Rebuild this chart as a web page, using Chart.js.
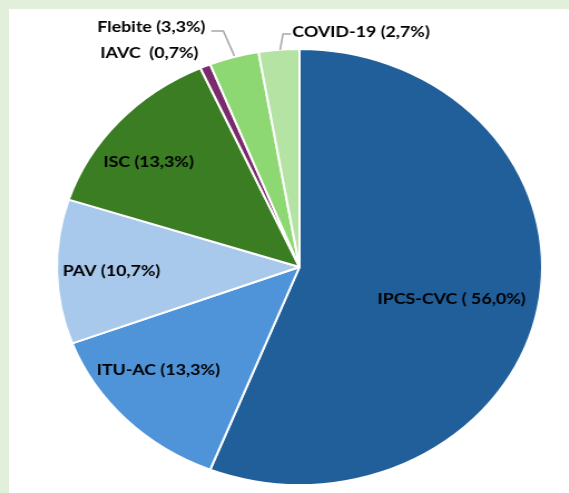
<!DOCTYPE html>
<html>
<head>
<meta charset="utf-8">
<script src="https://cdn.jsdelivr.net/npm/chart.js@4"></script>
<style>
  html, body { margin: 0; padding: 0; background: #e2efda; }
  #wrap { position: absolute; left: 9px; top: 9px; width: 560px; height: 484px; background: #ffffff; overflow: hidden; }
  /* the original picture is stretched sideways, so the pie is an ellipse */
  #myChart { transform: scaleX(1.113); transform-origin: 0 0; }
</style>
</head>
<body>
<div id="wrap"><canvas id="myChart" width="503" height="484"></canvas></div>
<script>
const categories = ['IPCS-CVC', 'ITU-AC', 'PAV', 'ISC', 'IAVC', 'Flebite', 'COVID-19'];
const values = [56.0, 13.3, 10.7, 13.3, 0.7, 3.3, 2.7];
const labelTexts = ['IPCS-CVC ( 56,0%)', 'ITU-AC (13,3%)', 'PAV (10,7%)', 'ISC (13,3%)', 'IAVC  (0,7%)', 'Flebite (3,3%)', 'COVID-19 (2,7%)'];
const colors = ['#215f9b', '#4f94d8', '#a8c9ec', '#3b7d23', '#7b2a6d', '#8ed873', '#b4e3a3'];

// where each label sits: fraction of radius on the slice's mid angle, plus a nudge
const labelPlace = [
    { f: 0.645, dx: -1.5, dy: 5.6 },
    { f: 0.748, dx: -10.5, dy: -11.8 },
    { f: 0.775, dx: 0, dy: 0.6 },
    { f: 0.787, dx: -8, dy: 9.6 },
    { f: 1, dx: -50.2, dy: -13.5 },
    { f: 1, dx: -74.3, dy: -30.2, leader: [[0.3, -1.2], [-9.6, -26.2], [-20.4, -26.2]] },
    { f: 1, dx: 73.8, dy: -17.8, leader: [[1, 0.2], [3.7, -15.8], [10.9, -15.8]] }
];

const sliceLabels = {
    id: 'sliceLabels',
    afterDatasetsDraw(chart) {
        const ctx = chart.ctx;
        const arcs = chart.getDatasetMeta(0).data;
        ctx.save();
        ctx.font = 'bold 16px Lato';
        ctx.fillStyle = '#000000';
        ctx.textAlign = 'center';
        ctx.textBaseline = 'middle';
        arcs.forEach((arc, i) => {
            const p = labelPlace[i];
            const mid = (arc.startAngle + arc.endAngle) / 2;
            const r = arc.outerRadius;
            const ox = arc.x + Math.cos(mid) * r;
            const oy = arc.y + Math.sin(mid) * r;
            if (p.leader) {
                ctx.strokeStyle = '#a6a6a6';
                ctx.lineWidth = 1.5;
                ctx.beginPath();
                p.leader.forEach((pt, k) => {
                    if (k === 0) ctx.moveTo(ox + pt[0], oy + pt[1]);
                    else ctx.lineTo(ox + pt[0], oy + pt[1]);
                });
                ctx.stroke();
            }
            const x = arc.x + Math.cos(mid) * r * p.f + p.dx;
            const y = arc.y + Math.sin(mid) * r * p.f + p.dy;
            ctx.fillText(labelTexts[i], x, y);
        });
        ctx.restore();
    }
};

const ctx = document.getElementById('myChart');

new Chart(ctx, {
    type: 'pie',
    data: {
        labels: categories,
        datasets: [{
            data: values,
            backgroundColor: colors,
            borderColor: '#ffffff',
            borderWidth: 2
        }]
    },
    options: {
        responsive: false,
        animation: false,
        layout: { padding: { left: 21, right: 2, top: 39, bottom: 7 } },
        plugins: {
            legend: { display: false },
            tooltip: { enabled: false }
        }
    },
    plugins: [sliceLabels]
});
</script>
</body>
</html>
